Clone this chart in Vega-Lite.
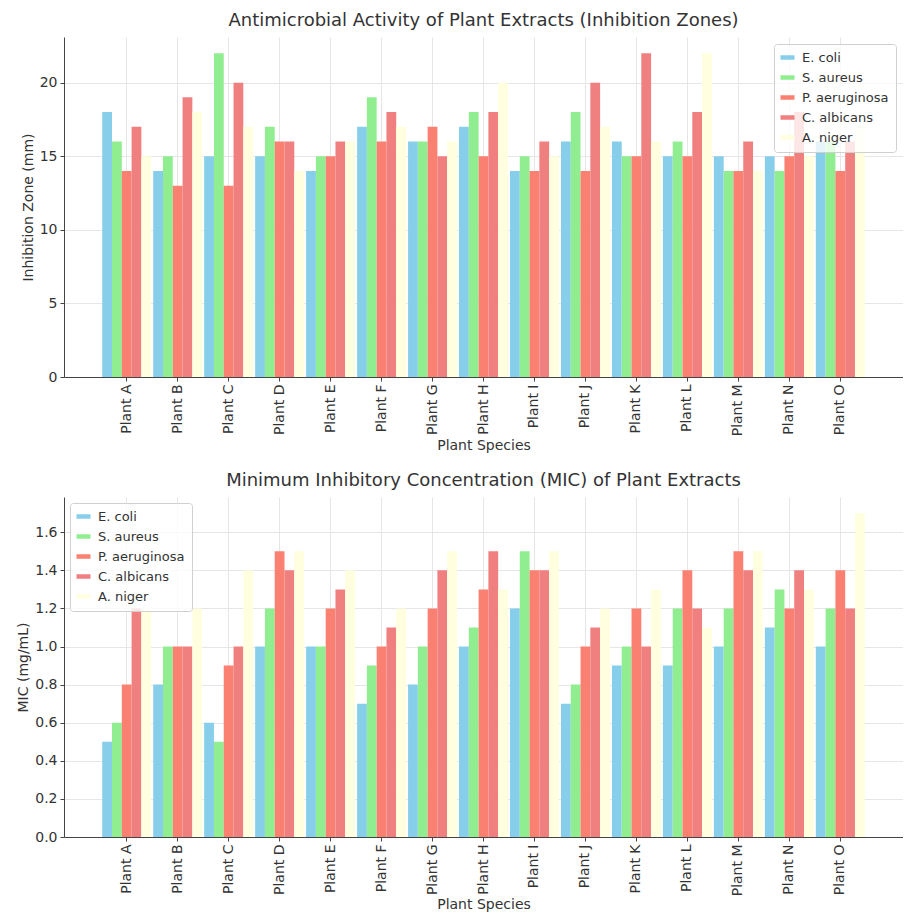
{
  "$schema": "https://vega.github.io/schema/vega-lite/v6.json",
  "padding": {"left": 16, "top": 12, "right": 0, "bottom": 0},
  "background": "white",
  "datasets": {
    "d": [
      {"plant":"Plant A","organism":"E. coli","zone":18,"mic":0.5},
      {"plant":"Plant A","organism":"S. aureus","zone":16,"mic":0.6},
      {"plant":"Plant A","organism":"P. aeruginosa","zone":14,"mic":0.8},
      {"plant":"Plant A","organism":"C. albicans","zone":17,"mic":1.2},
      {"plant":"Plant A","organism":"A. niger","zone":15,"mic":1.2},
      {"plant":"Plant B","organism":"E. coli","zone":14,"mic":0.8},
      {"plant":"Plant B","organism":"S. aureus","zone":15,"mic":1.0},
      {"plant":"Plant B","organism":"P. aeruginosa","zone":13,"mic":1.0},
      {"plant":"Plant B","organism":"C. albicans","zone":19,"mic":1.0},
      {"plant":"Plant B","organism":"A. niger","zone":18,"mic":1.2},
      {"plant":"Plant C","organism":"E. coli","zone":15,"mic":0.6},
      {"plant":"Plant C","organism":"S. aureus","zone":22,"mic":0.5},
      {"plant":"Plant C","organism":"P. aeruginosa","zone":13,"mic":0.9},
      {"plant":"Plant C","organism":"C. albicans","zone":20,"mic":1.0},
      {"plant":"Plant C","organism":"A. niger","zone":17,"mic":1.4},
      {"plant":"Plant D","organism":"E. coli","zone":15,"mic":1.0},
      {"plant":"Plant D","organism":"S. aureus","zone":17,"mic":1.2},
      {"plant":"Plant D","organism":"P. aeruginosa","zone":16,"mic":1.5},
      {"plant":"Plant D","organism":"C. albicans","zone":16,"mic":1.4},
      {"plant":"Plant D","organism":"A. niger","zone":14,"mic":1.5},
      {"plant":"Plant E","organism":"E. coli","zone":14,"mic":1.0},
      {"plant":"Plant E","organism":"S. aureus","zone":15,"mic":1.0},
      {"plant":"Plant E","organism":"P. aeruginosa","zone":15,"mic":1.2},
      {"plant":"Plant E","organism":"C. albicans","zone":16,"mic":1.3},
      {"plant":"Plant E","organism":"A. niger","zone":16,"mic":1.4},
      {"plant":"Plant F","organism":"E. coli","zone":17,"mic":0.7},
      {"plant":"Plant F","organism":"S. aureus","zone":19,"mic":0.9},
      {"plant":"Plant F","organism":"P. aeruginosa","zone":16,"mic":1.0},
      {"plant":"Plant F","organism":"C. albicans","zone":18,"mic":1.1},
      {"plant":"Plant F","organism":"A. niger","zone":17,"mic":1.2},
      {"plant":"Plant G","organism":"E. coli","zone":16,"mic":0.8},
      {"plant":"Plant G","organism":"S. aureus","zone":16,"mic":1.0},
      {"plant":"Plant G","organism":"P. aeruginosa","zone":17,"mic":1.2},
      {"plant":"Plant G","organism":"C. albicans","zone":15,"mic":1.4},
      {"plant":"Plant G","organism":"A. niger","zone":16,"mic":1.5},
      {"plant":"Plant H","organism":"E. coli","zone":17,"mic":1.0},
      {"plant":"Plant H","organism":"S. aureus","zone":18,"mic":1.1},
      {"plant":"Plant H","organism":"P. aeruginosa","zone":15,"mic":1.3},
      {"plant":"Plant H","organism":"C. albicans","zone":18,"mic":1.5},
      {"plant":"Plant H","organism":"A. niger","zone":20,"mic":1.3},
      {"plant":"Plant I","organism":"E. coli","zone":14,"mic":1.2},
      {"plant":"Plant I","organism":"S. aureus","zone":15,"mic":1.5},
      {"plant":"Plant I","organism":"P. aeruginosa","zone":14,"mic":1.4},
      {"plant":"Plant I","organism":"C. albicans","zone":16,"mic":1.4},
      {"plant":"Plant I","organism":"A. niger","zone":15,"mic":1.5},
      {"plant":"Plant J","organism":"E. coli","zone":16,"mic":0.7},
      {"plant":"Plant J","organism":"S. aureus","zone":18,"mic":0.8},
      {"plant":"Plant J","organism":"P. aeruginosa","zone":14,"mic":1.0},
      {"plant":"Plant J","organism":"C. albicans","zone":20,"mic":1.1},
      {"plant":"Plant J","organism":"A. niger","zone":17,"mic":1.2},
      {"plant":"Plant K","organism":"E. coli","zone":16,"mic":0.9},
      {"plant":"Plant K","organism":"S. aureus","zone":15,"mic":1.0},
      {"plant":"Plant K","organism":"P. aeruginosa","zone":15,"mic":1.2},
      {"plant":"Plant K","organism":"C. albicans","zone":22,"mic":1.0},
      {"plant":"Plant K","organism":"A. niger","zone":16,"mic":1.3},
      {"plant":"Plant L","organism":"E. coli","zone":15,"mic":0.9},
      {"plant":"Plant L","organism":"S. aureus","zone":16,"mic":1.2},
      {"plant":"Plant L","organism":"P. aeruginosa","zone":15,"mic":1.4},
      {"plant":"Plant L","organism":"C. albicans","zone":18,"mic":1.2},
      {"plant":"Plant L","organism":"A. niger","zone":22,"mic":1.1},
      {"plant":"Plant M","organism":"E. coli","zone":15,"mic":1.0},
      {"plant":"Plant M","organism":"S. aureus","zone":14,"mic":1.2},
      {"plant":"Plant M","organism":"P. aeruginosa","zone":14,"mic":1.5},
      {"plant":"Plant M","organism":"C. albicans","zone":16,"mic":1.4},
      {"plant":"Plant M","organism":"A. niger","zone":14,"mic":1.5},
      {"plant":"Plant N","organism":"E. coli","zone":15,"mic":1.1},
      {"plant":"Plant N","organism":"S. aureus","zone":14,"mic":1.3},
      {"plant":"Plant N","organism":"P. aeruginosa","zone":15,"mic":1.2},
      {"plant":"Plant N","organism":"C. albicans","zone":18,"mic":1.4},
      {"plant":"Plant N","organism":"A. niger","zone":15,"mic":1.3},
      {"plant":"Plant O","organism":"E. coli","zone":16,"mic":1.0},
      {"plant":"Plant O","organism":"S. aureus","zone":16,"mic":1.2},
      {"plant":"Plant O","organism":"P. aeruginosa","zone":14,"mic":1.4},
      {"plant":"Plant O","organism":"C. albicans","zone":16,"mic":1.2},
      {"plant":"Plant O","organism":"A. niger","zone":17,"mic":1.7}
    ]
  },
  "spacing": 19,
  "vconcat": [
    {
      "width": 839,
      "height": 340,
      "title": {"text": "Antimicrobial Activity of Plant Extracts (Inhibition Zones)", "fontSize": 18, "fontWeight": "normal", "color": "#333333", "offset": 7, "font": "DejaVu Sans"},
      "data": {"name": "d"},
      "mark": {"type": "bar"},
      "encoding": {
        "x": {"field": "plant", "type": "nominal", "title": "Plant Species",
              "scale": {"paddingInner": 0.04, "paddingOuter": 0.75},
              "axis": {"labelAngle": 270, "grid": true, "bandPosition": 0.5, "titlePadding": 3}},
        "xOffset": {"field": "organism", "type": "nominal", "sort": ["E. coli","S. aureus","P. aeruginosa","C. albicans","A. niger"],
                    "scale": {"paddingInner": 0, "paddingOuter": 0}},
        "y": {"field": "zone", "type": "quantitative", "title": "Inhibition Zone (mm)",
              "scale": {"domain": [0, 23.1], "nice": false},
              "axis": {"values": [0, 5, 10, 15, 20], "format": "d", "grid": true}},
        "color": {"field": "organism", "type": "nominal",
                  "scale": {"domain": ["E. coli","S. aureus","P. aeruginosa","C. albicans","A. niger"],
                            "range": ["#87CEEB","#90EE90","#FA8072","#F08080","#FFFFE0"]},
                  "legend": {"orient": "top-right", "offset": 7, "title": null}}
      }
    },
    {
      "width": 839,
      "height": 340,
      "title": {"text": "Minimum Inhibitory Concentration (MIC) of Plant Extracts", "fontSize": 18, "fontWeight": "normal", "color": "#333333", "offset": 7, "font": "DejaVu Sans"},
      "data": {"name": "d"},
      "mark": {"type": "bar"},
      "encoding": {
        "x": {"field": "plant", "type": "nominal", "title": "Plant Species",
              "scale": {"paddingInner": 0.04, "paddingOuter": 0.75},
              "axis": {"labelAngle": 270, "grid": true, "bandPosition": 0.5, "titlePadding": 2}},
        "xOffset": {"field": "organism", "type": "nominal", "sort": ["E. coli","S. aureus","P. aeruginosa","C. albicans","A. niger"],
                    "scale": {"paddingInner": 0, "paddingOuter": 0}},
        "y": {"field": "mic", "type": "quantitative", "title": "MIC (mg/mL)",
              "scale": {"domain": [0, 1.785], "nice": false},
              "axis": {"values": [0, 0.2, 0.4, 0.6, 0.8, 1.0, 1.2, 1.4, 1.6], "format": ".1f", "grid": true}},
        "color": {"field": "organism", "type": "nominal",
                  "scale": {"domain": ["E. coli","S. aureus","P. aeruginosa","C. albicans","A. niger"],
                            "range": ["#87CEEB","#90EE90","#FA8072","#F08080","#FFFFE0"]},
                  "legend": {"orient": "top-left", "offset": 6, "title": null}}
      }
    }
  ],
  "resolve": {"legend": {"color": "independent"}},
  "config": {
    "font": "DejaVu Sans",
    "view": {"stroke": null},
    "axis": {
      "labelFont": "DejaVu Sans", "titleFont": "DejaVu Sans",
      "labelFontSize": 14, "titleFontSize": 14, "titleFontWeight": "normal",
      "labelColor": "#333333", "titleColor": "#333333",
      "domainColor": "#444444", "tickColor": "#444444", "tickSize": 4,
      "gridColor": "#e6e6e6", "labelPadding": 3
    },
    "legend": {
      "labelFont": "DejaVu Sans", "labelFontSize": 13, "labelColor": "#333333",
      "symbolType": "M-1.4,-0.45H1.4V0.45H-1.4Z", "symbolSize": 100, "symbolStrokeWidth": 0,
      "fillColor": "rgba(255,255,255,0.8)", "strokeColor": "#d0d0d0", "cornerRadius": 3,
      "padding": 7, "rowPadding": 6, "labelOffset": 8
    }
  }
}
